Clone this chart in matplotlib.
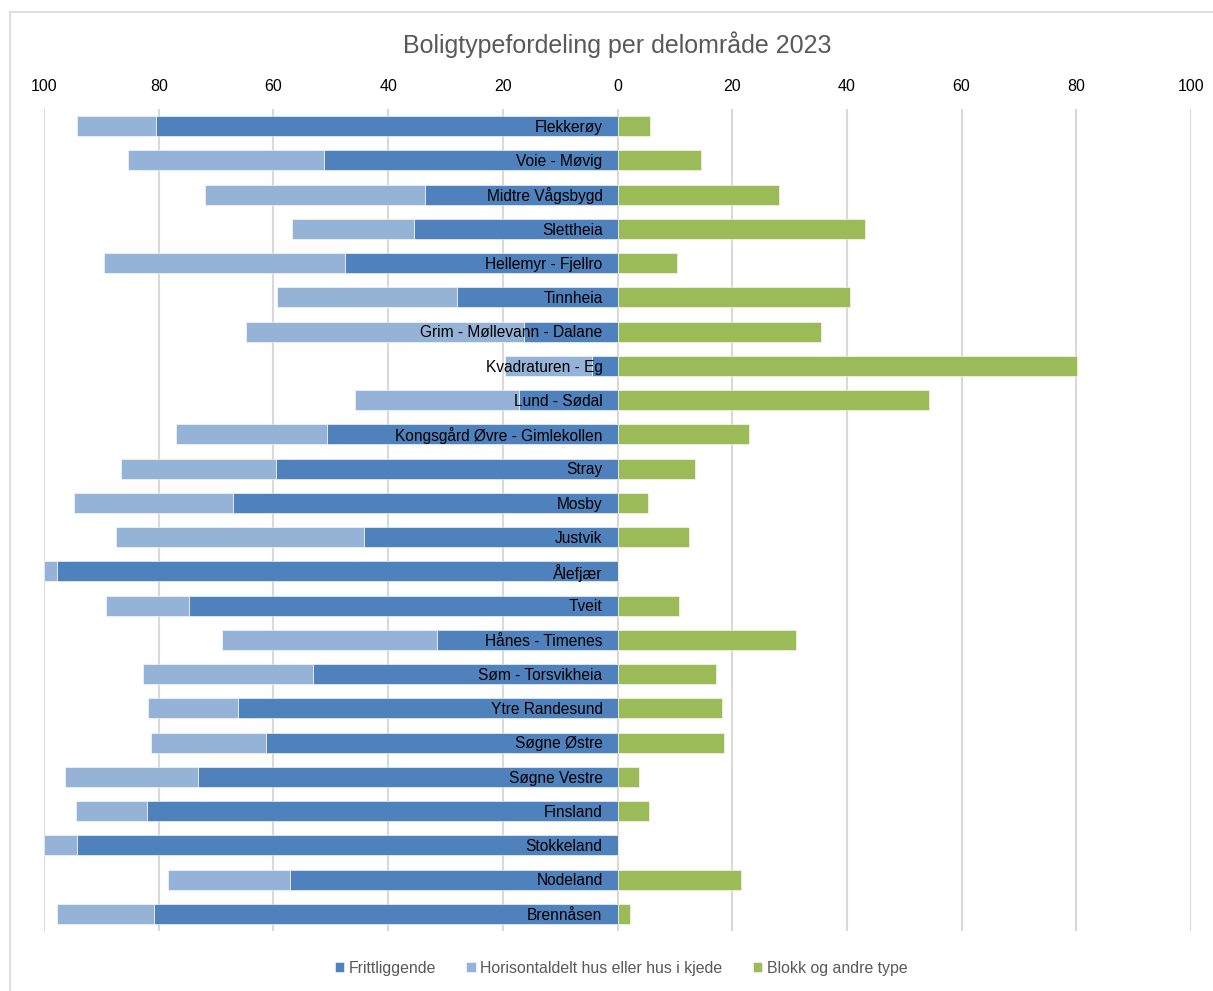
import matplotlib
matplotlib.use("Agg")
import matplotlib.pyplot as plt
from matplotlib.patches import Rectangle
from matplotlib.ticker import FuncFormatter

# data (percent)
omrader = ["Flekkerøy", "Voie - Møvig", "Midtre Vågsbygd", "Slettheia",
           "Hellemyr - Fjellro", "Tinnheia", "Grim - Møllevann - Dalane",
           "Kvadraturen - Eg", "Lund - Sødal", "Kongsgård Øvre - Gimlekollen",
           "Stray", "Mosby", "Justvik", "Ålefjær", "Tveit", "Hånes - Timenes",
           "Søm - Torsvikheia", "Ytre Randesund", "Søgne Østre", "Søgne Vestre",
           "Finsland", "Stokkeland", "Nodeland", "Brennåsen"]
frittliggende = [80.5, 51.1, 33.5, 35.4, 47.6, 28.0, 16.3, 4.5, 17.2, 50.7,
                 59.5, 67.1, 44.2, 97.7, 74.7, 31.5, 53.1, 66.1, 61.3, 73.2,
                 82.1, 94.2, 57.1, 80.8]
horisontaldelt = [13.8, 34.3, 38.4, 21.3, 42.0, 31.3, 48.4, 15.2, 28.5, 26.3,
                  27.0, 27.7, 43.2, 2.3, 14.5, 37.4, 29.7, 15.7, 20.1, 23.1,
                  12.4, 5.8, 21.3, 16.9]
blokk = [5.6, 14.6, 28.1, 43.2, 10.4, 40.6, 35.4, 80.2, 54.3, 22.9,
         13.6, 5.4, 12.5, 0.0, 10.7, 31.1, 17.2, 18.2, 18.5, 3.7,
         5.5, 0.0, 21.6, 2.2]
ticks = [-100, -80, -60, -40, -20, 0, 20, 40, 60, 80, 100]

c_fritt = "#4f81bd"
c_hor = "#95b3d7"
c_blokk = "#9bbb59"
grey = "#595959"

plt.rcParams['font.family'] = ['Liberation Sans', 'DejaVu Sans']

fig = plt.figure(figsize=(12.13, 9.91), dpi=100)
# chart frame like Excel
fig.patches.append(Rectangle((10 / 1213, -0.01), 1.0, 1 - 12 / 991 + 0.01,
                             transform=fig.transFigure, fill=False,
                             edgecolor="#d9d9d9", linewidth=1.2))

ax = fig.add_axes([44 / 1213, 1 - 931 / 991, (1191 - 44) / 1213, (931 - 109) / 991])

y = list(range(len(omrader)))
h = 0.58
neg_fritt = [-v for v in frittliggende]
neg_hor = [-v for v in horisontaldelt]
ax.barh(y, neg_fritt, height=h, color=c_fritt, edgecolor="white", linewidth=0.4,
        label="Frittliggende", zorder=3)
ax.barh(y, neg_hor, left=neg_fritt, height=h, color=c_hor, edgecolor="white",
        linewidth=0.4, label="Horisontaldelt hus eller hus i kjede", zorder=3)
ax.barh(y, blokk, height=h, color=c_blokk, edgecolor="white", linewidth=0.4,
        label="Blokk og andre type", zorder=3)

for i, name in enumerate(omrader):
    ax.text(-2.6, i + 0.04, name, ha="right", va="center", fontsize=11.2,
            color="black", zorder=4)

ax.set_xlim(-100, 100)
ax.set_ylim(len(omrader) - 0.5, -0.5)
ax.set_xticks(ticks)
ax.xaxis.set_major_formatter(FuncFormatter(lambda v, p: "%d" % abs(v)))
ax.xaxis.tick_top()
ax.tick_params(axis="x", length=0, pad=11, labelsize=11.5, labelcolor="black")
ax.set_yticks([])
ax.grid(axis="x", color="#d9d9d9", linewidth=1.5, zorder=0)
for s in ax.spines.values():
    s.set_visible(False)

fig.text(0.509, 1 - 45 / 991, "Boligtypefordeling per delområde 2023",
         ha="center", va="center", fontsize=18, color=grey)

leg = ax.legend(loc="center", bbox_to_anchor=(0.512, 1 - 968 / 991),
                bbox_transform=fig.transFigure, ncol=3, frameon=False,
                handlelength=0.6, handleheight=0.6, handletextpad=0.3,
                columnspacing=1.9, fontsize=11.4)
for t in leg.get_texts():
    t.set_color(grey)

plt.savefig("out.png", dpi=100)
